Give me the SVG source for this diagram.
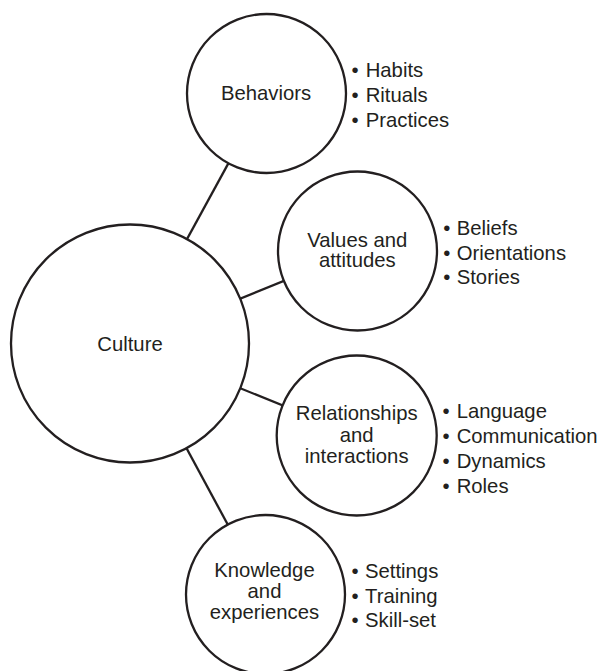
<svg xmlns="http://www.w3.org/2000/svg" width="601" height="671" viewBox="0 0 601 671">
  <style>
    .bg { fill: #ffffff; }
    .edge { stroke: #231f20; stroke-width: 2.3; fill: none; }
    .node { fill: #ffffff; stroke: #231f20; stroke-width: 2.3; }
    .label { font-family: "Liberation Sans", Arial, sans-serif; font-size: 20.3px; fill: #231f20; text-anchor: middle; }
    .item { font-family: "Liberation Sans", Arial, sans-serif; font-size: 20.3px; fill: #231f20; }
  </style>
  <rect class="bg" x="0" y="0" width="601" height="671"/>

  <!-- connectors: hub centre to each satellite centre, hidden under the filled circles -->
  <g id="connectors">
    <line class="edge" x1="130" y1="343.5" x2="266.5" y2="93.5"/>
    <line class="edge" x1="130" y1="343.5" x2="357.5" y2="251"/>
    <line class="edge" x1="130" y1="343.5" x2="356.7" y2="435.5"/>
    <line class="edge" x1="130" y1="343.5" x2="265.5" y2="594.5"/>
  </g>

  <g id="culture">
    <circle class="node" cx="130" cy="343.5" r="119"/>
    <text class="label" x="130" y="350.5">Culture</text>
  </g>

  <g id="behaviors">
    <circle class="node" cx="266.5" cy="93.5" r="79.5"/>
    <text class="label" x="266" y="100">Behaviors</text>
    <text class="item" y="76.7"><tspan x="351.5">•</tspan><tspan x="365.7">Habits</tspan></text>
    <text class="item" y="101.7"><tspan x="351.5">•</tspan><tspan x="365.7">Rituals</tspan></text>
    <text class="item" y="126.7"><tspan x="351.5">•</tspan><tspan x="365.7">Practices</tspan></text>
  </g>

  <g id="values">
    <circle class="node" cx="357.5" cy="251" r="79.5"/>
    <text class="label" x="357.3" y="247.3">Values and</text>
    <text class="label" x="357.3" y="267.3">attitudes</text>
    <text class="item" y="235"><tspan x="443.2">•</tspan><tspan x="456.7">Beliefs</tspan></text>
    <text class="item" y="259.5"><tspan x="443.2">•</tspan><tspan x="456.7">Orientations</tspan></text>
    <text class="item" y="284"><tspan x="443.2">•</tspan><tspan x="456.7">Stories</tspan></text>
  </g>

  <g id="relationships">
    <circle class="node" cx="356.7" cy="435.5" r="80"/>
    <text class="label" x="356.7" y="420">Relationships</text>
    <text class="label" x="356.7" y="441.7">and</text>
    <text class="label" x="356.7" y="463.3">interactions</text>
    <text class="item" y="418.3"><tspan x="442.5">•</tspan><tspan x="456.7">Language</tspan></text>
    <text class="item" y="442.8"><tspan x="442.5">•</tspan><tspan x="456.7">Communication</tspan></text>
    <text class="item" y="467.8"><tspan x="442.5">•</tspan><tspan x="456.7">Dynamics</tspan></text>
    <text class="item" y="492.5"><tspan x="442.5">•</tspan><tspan x="456.7">Roles</tspan></text>
  </g>

  <g id="knowledge">
    <circle class="node" cx="265.5" cy="594.5" r="79.5"/>
    <text class="label" x="264.5" y="577.3">Knowledge</text>
    <text class="label" x="264.5" y="598.3">and</text>
    <text class="label" x="264.5" y="619.3">experiences</text>
    <text class="item" y="578.3"><tspan x="351.5">•</tspan><tspan x="365">Settings</tspan></text>
    <text class="item" y="602.8"><tspan x="351.5">•</tspan><tspan x="365">Training</tspan></text>
    <text class="item" y="627.3"><tspan x="351.5">•</tspan><tspan x="365">Skill-set</tspan></text>
  </g>
</svg>
